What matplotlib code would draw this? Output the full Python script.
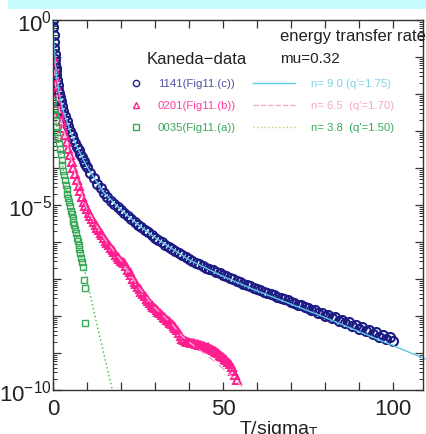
import matplotlib
matplotlib.use("Agg")
import matplotlib.pyplot as plt
from matplotlib.patches import Rectangle
from matplotlib.lines import Line2D
from matplotlib.ticker import FixedLocator, FixedFormatter, LogLocator, NullFormatter
import numpy as np

plt.rcParams["font.family"] = ["Liberation Sans", "DejaVu Sans"]
plt.rcParams["mathtext.fontset"] = "custom"
plt.rcParams["mathtext.rm"] = "Liberation Sans"
plt.rcParams["mathtext.it"] = "Liberation Sans"

# 1141 (Fig11.(c)) : T/sigma_T and log10 of the rate
t_1141 = [0, 0.1, 0.2, 0.3, 0.4, 0.5, 0.6, 0.7, 0.8, 0.9, 1.0, 1.2, 1.4, 1.6, 1.8,
          2.0, 2.3, 2.6, 3.0, 3.5, 4, 4.5, 5, 5.5, 6, 6.5, 7, 7.5, 8, 8.5, 9, 9.5,
          10, 11, 12, 13, 14, 15, 16, 17, 18, 19, 20, 21, 22, 23, 24, 25, 26, 27,
          28, 29, 30, 31, 32, 33, 34, 35, 36, 37, 38, 39, 40, 41, 42, 43, 44, 45,
          46, 47, 48, 49, 50, 51, 52, 53, 54, 55, 56, 57, 58, 59, 60, 61, 62, 63,
          64, 65, 66, 67, 68, 69, 70, 71, 72, 73, 74, 75, 76, 77, 78, 79, 80, 81,
          82, 83, 84, 85, 86, 87, 88, 89, 90, 91, 92, 93, 94, 95, 96, 97, 98, 99, 100]
lg_1141 = [0, -0.2, -0.4, -0.6, -0.77, -0.93, -1.06, -1.18, -1.29, -1.39, -1.48, -1.63,
           -1.76, -1.88, -1.98, -2.07, -2.2, -2.32, -2.45, -2.6, -2.74, -2.87, -2.99,
           -3.1, -3.21, -3.32, -3.42, -3.52, -3.62, -3.71, -3.8, -3.89,
           -3.97, -4.13, -4.28, -4.42, -4.55, -4.67, -4.78, -4.88, -4.97, -5.05,
           -5.13, -5.21, -5.29, -5.37, -5.45, -5.53, -5.6, -5.67, -5.74, -5.81,
           -5.88, -5.95, -6.01, -6.07, -6.13, -6.19, -6.25, -6.31, -6.36, -6.41,
           -6.46, -6.51, -6.56, -6.6, -6.65, -6.69, -6.73, -6.77, -6.81, -6.85,
           -6.89, -6.93, -6.97, -7.01, -7.05, -7.09, -7.13, -7.16, -7.2, -7.23,
           -7.27, -7.3, -7.34, -7.37, -7.41, -7.44, -7.48, -7.51, -7.55, -7.58,
           -7.62, -7.64, -7.69, -7.71, -7.77, -7.78, -7.84, -7.85, -7.92, -7.91,
           -7.99, -7.98, -8.06, -8.04, -8.13, -8.1, -8.2, -8.17, -8.27, -8.24,
           -8.34, -8.3, -8.41, -8.37, -8.49, -8.43, -8.56, -8.5, -8.63, -8.58, -8.68]

# 0201 (Fig11.(b))
t_0201 = [0, 0.25, 0.5, 0.75, 1, 1.5, 2, 2.5, 3, 3.5, 4, 4.5, 5, 5.5, 6, 6.5, 7, 7.5,
          8, 8.5, 9, 9.5, 10, 10.5, 11, 11.5, 12, 12.5, 13, 13.5, 14, 14.5, 15, 15.5,
          16, 16.5, 17, 17.5, 18, 18.5, 19, 19.5, 20, 20.5, 21, 21.5, 22, 22.5, 23,
          23.5, 24, 24.5, 25, 25.5, 26, 26.5, 27, 27.5, 28, 28.5, 29, 29.5, 30, 30.5,
          31, 31.5, 32, 32.5, 33, 33.5, 34, 34.5, 35, 35.5, 36, 36.5, 37, 37.5, 38,
          38.5, 39, 39.5, 40, 40.5, 41, 41.5, 42, 42.5, 43, 43.5, 44, 44.5, 45, 45.5,
          46, 46.5, 47, 47.5, 48, 48.5, 49, 49.5, 50, 50.5, 51, 51.5, 52, 52.5, 53,
          53.5, 54]
lg_0201 = [-1.0, -1.3, -1.55, -1.77, -1.95, -2.25, -2.5, -2.72, -2.92, -3.12, -3.31,
           -3.49, -3.66, -3.83, -4.0, -4.16, -4.32, -4.48, -4.63, -4.78, -4.92, -5.03,
           -5.12, -5.21, -5.3, -5.38, -5.46, -5.54, -5.61, -5.68, -5.75, -5.82, -5.89,
           -5.96, -6.02, -6.09, -6.15, -6.22, -6.28, -6.35, -6.4, -6.47, -6.5, -6.55,
           -6.58, -6.64, -6.75, -6.82, -6.9, -6.99, -7.07, -7.14, -7.22, -7.28, -7.35,
           -7.41, -7.47, -7.54, -7.6, -7.65, -7.7, -7.75, -7.79, -7.84, -7.88, -7.93,
           -7.98, -8.02, -8.06, -8.1, -8.14, -8.18, -8.22, -8.27, -8.32, -8.39, -8.46,
           -8.54, -8.62, -8.66, -8.68, -8.7, -8.71, -8.72, -8.73, -8.74, -8.75, -8.76,
           -8.78, -8.79, -8.8, -8.81, -8.83, -8.85, -8.87, -8.89, -8.92, -8.95, -8.98,
           -9.01, -9.05, -9.08, -9.12, -9.16, -9.2, -9.25, -9.3, -9.38, -9.48, -9.6,
           -9.72]

# 0035 (Fig11.(a))
t_0035 = [0, 0.25, 0.5, 0.75, 1, 1.25, 1.5, 1.75, 2, 2.25, 2.5, 2.75, 3, 3.25, 3.5,
          3.75, 4, 4.25, 4.5, 4.75, 5, 5.25, 5.5, 5.75, 6, 6.25, 6.5, 6.75, 7, 7.25,
          7.5, 7.75, 8, 8.25, 8.5, 8.75, 9.0, 9.3, 9.5]
lg_0035 = [-2.2, -2.4, -2.55, -2.72, -2.88, -3.03, -3.18, -3.33, -3.48, -3.63, -3.78,
           -3.93, -4.07, -4.2, -4.33, -4.46, -4.58, -4.7, -4.82, -4.93, -5.04, -5.15,
           -5.25, -5.35, -5.45, -5.55, -5.66, -5.77, -5.88, -5.98, -6.08, -6.2, -6.3,
           -6.42, -6.55, -6.68, -7.03, -7.25, -8.19]

# fitted curves
t_n90 = [0, 0.3, 0.6, 1, 2, 3, 5, 7, 10, 15, 20, 25, 30, 40, 50, 60, 70, 80, 90, 100, 110]
lg_n90 = [0, -0.6, -1.06, -1.48, -2.07, -2.45, -2.99, -3.42, -3.97, -4.67, -5.13,
          -5.53, -5.88, -6.48, -6.93, -7.32, -7.68, -8.04, -8.42, -8.8, -9.18]
t_n65 = [0, 1, 2, 3, 5, 7, 10, 15, 20, 25, 30, 35, 38, 42, 46, 50, 54, 57]
lg_n65 = [-1.0, -1.95, -2.5, -2.92, -3.66, -4.32, -5.12, -5.89, -6.5, -7.2, -7.78,
          -8.22, -8.55, -8.85, -9.12, -9.42, -9.76, -10.05]
t_n38 = [0, 2, 4, 6, 8, 9.4, 13.2, 17.6]
lg_n38 = [-2.2, -3.48, -4.58, -5.45, -6.3, -6.8, -8.35, -10.05]

c_1141 = "#1c1c84"
c_0201 = "#ff1f8f"
c_0035 = "#3aa85a"
c_n90 = "#5cc8e6"
c_n65 = "#f7a6cf"
c_n38 = "#5cbf5c"

W, H = 427, 435
fig = plt.figure(figsize=(W / 100, H / 100), dpi=100)
fig.patches.append(Rectangle((8 / W, 1 - 10 / H), 1, 10 / H, transform=fig.transFigure,
                             facecolor="#c8fbfd", edgecolor="none", zorder=0))
ax = fig.add_axes([53 / W, 44 / H, 370 / W, 370 / H])

ax.semilogy(t_1141, 10 ** np.array(lg_1141), "o", mfc="none", mec=c_1141, ms=6.5, mew=1.5)
ax.semilogy(t_0201, 10 ** np.array(lg_0201), "^", mfc="none", mec=c_0201, ms=6.2, mew=1.4)
ax.semilogy(t_0035, 10 ** np.array(lg_0035), "s", mfc="none", mec=c_0035, ms=4.8, mew=1.0)
ax.semilogy(t_n90, 10 ** np.array(lg_n90), "-", color=c_n90, lw=1.0, clip_on=False)
ax.semilogy(t_n65, 10 ** np.array(lg_n65), "--", color=c_n65, lw=1.0, dashes=(5, 4))
ax.semilogy(t_n38, 10 ** np.array(lg_n38), ":", color=c_n38, lw=1.1)

ax.set_xlim(0, 108.8)
ax.set_ylim(1e-10, 1)

ax.xaxis.set_major_locator(FixedLocator(np.arange(0, 111, 10)))
ax.xaxis.set_major_formatter(FixedFormatter(["0", "", "", "", "", "50", "", "", "", "", "100", ""]))
ax.yaxis.set_major_locator(FixedLocator([10.0 ** k for k in range(-10, 1)]))
ax.yaxis.set_major_formatter(FixedFormatter(
    ["$10^{-10}$", "", "", "", "", "$10^{-5}$", "", "", "", "", "$10^{0}$"]))
ax.yaxis.set_minor_locator(LogLocator(base=10, subs=np.arange(2, 10), numticks=50))
ax.yaxis.set_minor_formatter(NullFormatter())

ax.tick_params(which="both", direction="in", top=True, right=True, colors="#333333",
               labelcolor="#222222", labelsize=16)
ax.tick_params(which="major", length=6, width=0.9)
ax.tick_params(which="minor", length=3, width=0.7)
ax.tick_params(axis="y", pad=1)
ax.tick_params(axis="x", pad=6)
for s in ax.spines.values():
    s.set_color("#333333")
    s.set_linewidth(1.0)

ax.set_xlabel("T/sigma$_\\mathrm{T}$", fontsize=14, color="#222222")
ax.xaxis.set_label_coords(0.61, -0.075)


def fx(px):
    return px / W


def fy(py):
    return 1 - py / H


fig.text(fx(280), fy(37), "energy transfer rate", fontsize=12, va="center", color="#222222")
fig.text(fx(147), fy(59), "Kaneda\u2212data", fontsize=12, va="center", color="#222222")
fig.text(fx(280), fy(59), "mu=0.32", fontsize=11, va="center", color="#222222")

rows = [
    (84, "o", c_1141, "#5050a8", "1141(Fig11.(c))", "-", c_n90, "#7fd3ea", "n= 9.0 (q'=1.75)"),
    (106, "^", c_0201, "#ff3f9f", "0201(Fig11.(b))", "--", c_n65, "#f7a6cf", "n= 6.5  (q'=1.70)"),
    (128, "s", c_0035, "#3aa85a", "0035(Fig11.(a))", ":", "#b5d86a", "#3aa85a", "n= 3.8  (q'=1.50)"),
]
for py, mk, mc, tc, lab, ls, lc, nc, ntext in rows:
    fig.add_artist(Line2D([fx(136)], [fy(py)], marker=mk, mfc="none", mec=mc, ms=4.5,
                          mew=1.0, transform=fig.transFigure))
    fig.text(fx(158), fy(py), lab, fontsize=8.2, va="center", color=tc)
    fig.add_artist(Line2D([fx(253), fx(295)], [fy(py), fy(py)], ls=ls, color=lc, lw=1.0,
                          transform=fig.transFigure))
    fig.text(fx(311), fy(py), ntext, fontsize=8.2, va="center", color=nc)

fig.savefig("out.png", dpi=100)
